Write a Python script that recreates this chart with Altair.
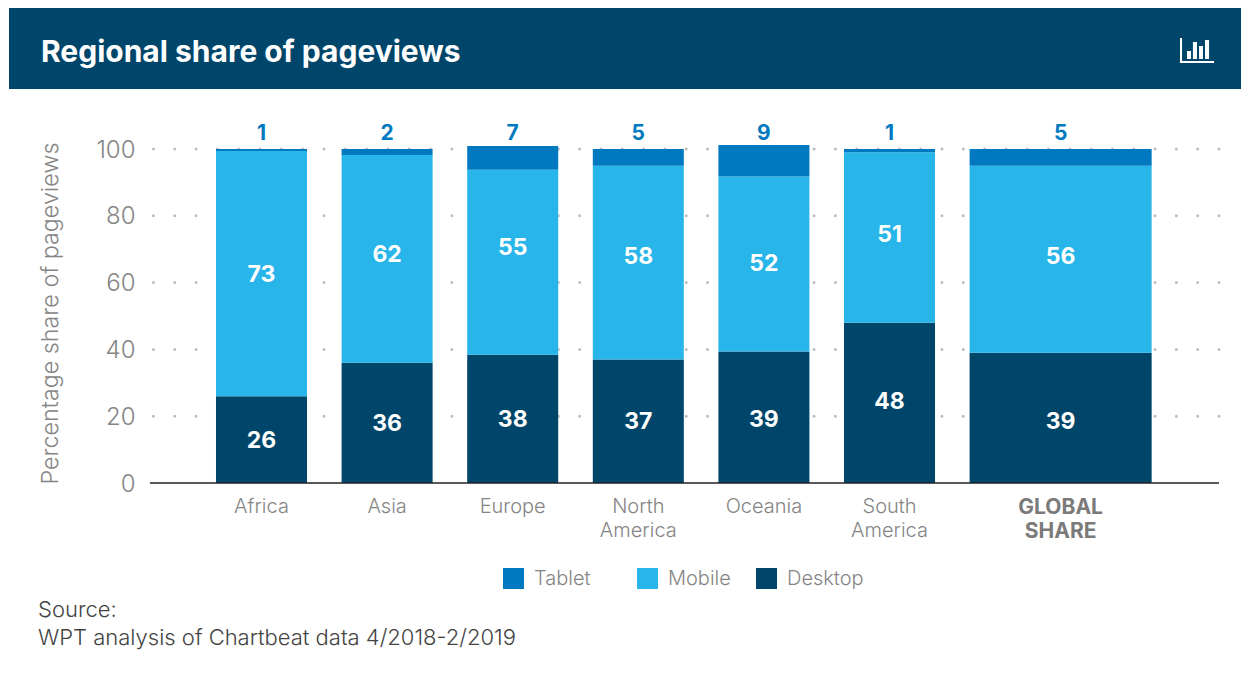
import altair as alt
import pandas as pd

FONT = "Inter"
NAVY = "#00466b"
GREY = "#858585"

regions = ["Africa", "Asia", "Europe", "North\nAmerica", "Oceania", "South\nAmerica", "GLOBAL\nSHARE"]
bar_span = [1, 1, 1, 1, 1, 1, 2]
desktop = [26, 36, 38.4, 37, 39.4, 48, 39]
mobile = [73.4, 62.2, 55.4, 58, 52.4, 51, 56]
tablet = [0.6, 1.8, 7.1, 5, 9.4, 1, 5]
desktop_label_at = [12.9, 18, 19.2, 18.6, 19.2, 24.6, 18.6]
mobile_label_at = [62.6, 68.6, 70.7, 68, 65.9, 74.6, 68]
series_names = ["Tablet", "Mobile", "Desktop"]
series_colors = ["#0079c1", "#27b5ea", NAVY]
y_ticks = [0, 20, 40, 60, 80, 100]
source_lines = ["Source:", "WPT analysis of Chartbeat data 4/2018-2/2019"]
GAP = 0.38

rows, cats, pos = [], [], 0.0
for i, r in enumerate(regions):
    end = pos + bar_span[i]
    cats.append({"region": r, "center": (pos + end) / 2, "bold": r.isupper(), "label": tablet[i], "top": 105})
    base = 0
    for name, v, at in (("Desktop", desktop[i], desktop_label_at[i]), ("Mobile", mobile[i], mobile_label_at[i]), ("Tablet", tablet[i], None)):
        rows.append({"region": r, "series": name, "x0": pos, "x1": end, "y0": base, "y1": base + v,
                     "mid": at, "center": (pos + end) / 2, "value": v})
        base += v
    pos = end + GAP
df = pd.DataFrame(rows)
cat_df = pd.DataFrame(cats)

xs = alt.Scale(domain=[-0.725, 11.02], nice=False, zero=False)
ys = alt.Scale(domain=[0, 100], nice=False)
yaxis = alt.Axis(values=y_ticks, grid=False, ticks=False, domain=False, labelFont=FONT, labelFontSize=24,
                 labelFontWeight=300, labelColor=GREY, labelPadding=15, labelOffset=1, title="Percentage share of pageviews",
                 titleFont=FONT, titleFontSize=23.3, titleFontWeight=300, titleColor=GREY, titleX=-100, titleY=164,
                 titleAngle=270, titleAlign="center", titleBaseline="middle")
Y = lambda f: alt.Y(f, scale=ys, axis=yaxis)
X = lambda f: alt.X(f, scale=xs, axis=None)
blank = alt.Data(values=[{}])
grid_df = pd.DataFrame({"g": y_ticks[1:]})

grid = alt.Chart(grid_df).mark_rule(color="#bdbdbd", strokeWidth=3, strokeDash=[0.01, 21.3], strokeCap="round").encode(y=Y("g:Q"))

bars = alt.Chart(df).mark_rect().encode(
    x=X("x0:Q"), x2="x1:Q", y=Y("y0:Q"), y2="y1:Q",
    color=alt.Color("series:N", scale=alt.Scale(domain=series_names, range=series_colors),
                    legend=alt.Legend(orient="none", legendX=353, legendY=419, direction="horizontal", columns=3,
                                      title=None, symbolType="square", symbolSize=441, symbolStrokeWidth=0,
                                      labelExpr="datum.label == 'Tablet' ? 'Tablet\u00a0\u2800' : datum.label",
                                      labelFont=FONT, labelFontSize=20, labelFontWeight=300, labelColor=GREY,
                                      labelOffset=10, columnPadding=25, padding=0)))

base_line = alt.Chart(pd.DataFrame({"g": [0]})).mark_rule(color="#222222", strokeWidth=1.5).encode(y=Y("g:Q"))

vals = alt.Chart(df[df.series != "Tablet"]).mark_text(font=FONT, fontSize=23, fontWeight=700, color="white", baseline="middle", dy=1.5).encode(
    x=X("center:Q"), y=Y("mid:Q"), text=alt.Text("value:Q", format=".0f"))

tops = alt.Chart(cat_df).mark_text(font=FONT, fontSize=21, fontWeight=700, color="#0079c1", baseline="middle", dy=2).encode(
    x=X("center:Q"), y=Y("top:Q"), text=alt.Text("label:Q", format=".0f"))

labs = alt.Chart(cat_df[~cat_df.bold]).mark_text(font=FONT, fontSize=20, fontWeight=300, color=GREY, baseline="top", lineBreak="\n", lineHeight=24).encode(
    x=X("center:Q"), y=alt.value(348), text="region:N")
labs_b = alt.Chart(cat_df[cat_df.bold]).mark_text(font=FONT, fontSize=21, fontWeight=700, color="#7a7a7a", baseline="top", lineBreak="\n", lineHeight=24).encode(
    x=X("center:Q"), y=alt.value(348), text="region:N")

header = alt.Chart(blank).mark_rect(color=NAVY).encode(x=alt.value(-141), x2=alt.value(1099), y=alt.value(-141), y2=alt.value(-60))
title = alt.Chart(blank).mark_text(text="Regional share of pageviews", font=FONT, fontSize=30, fontWeight=700, color="white", align="left", baseline="middle").encode(
    x=alt.value(-109), y=alt.value(-96.5))

ICON = ("M-1-.74H-.88V.62H1V.74H-1Z M-.59 .03H-.35V.5H-.59Z M-.24-.5H0V.5H-.24Z "
        "M.12-.26H.35V.5H.12Z M.47-.62H.71V.5H.47Z")
icon = alt.Chart(blank).mark_point(shape=ICON, size=1156, filled=True, color="white", opacity=1, strokeWidth=0).encode(
    x=alt.value(1047), y=alt.value(-98.5))

src = alt.layer(
    alt.Chart(blank).mark_text(text=source_lines[0], font=FONT, fontSize=22, fontWeight=300, color="#444444", align="left", baseline="middle").encode(x=alt.value(-112), y=alt.value(461)),
    alt.Chart(blank).mark_text(text=source_lines[1], font=FONT, fontSize=22, fontWeight=300, color="#444444", align="left", baseline="middle").encode(x=alt.value(-112), y=alt.value(489)),
)

chart = alt.layer(grid, bars, base_line, vals, tops, labs, labs_b, header, title, icon, src).properties(
    width=1069, height=334, background="white",
    autosize=alt.AutoSizeParams(type="none"),
    padding={"left": 142, "top": 141, "right": 22, "bottom": 188},
).configure_view(stroke=None)

chart.save("out.html", embed_options={"renderer": "svg", "actions": False})
